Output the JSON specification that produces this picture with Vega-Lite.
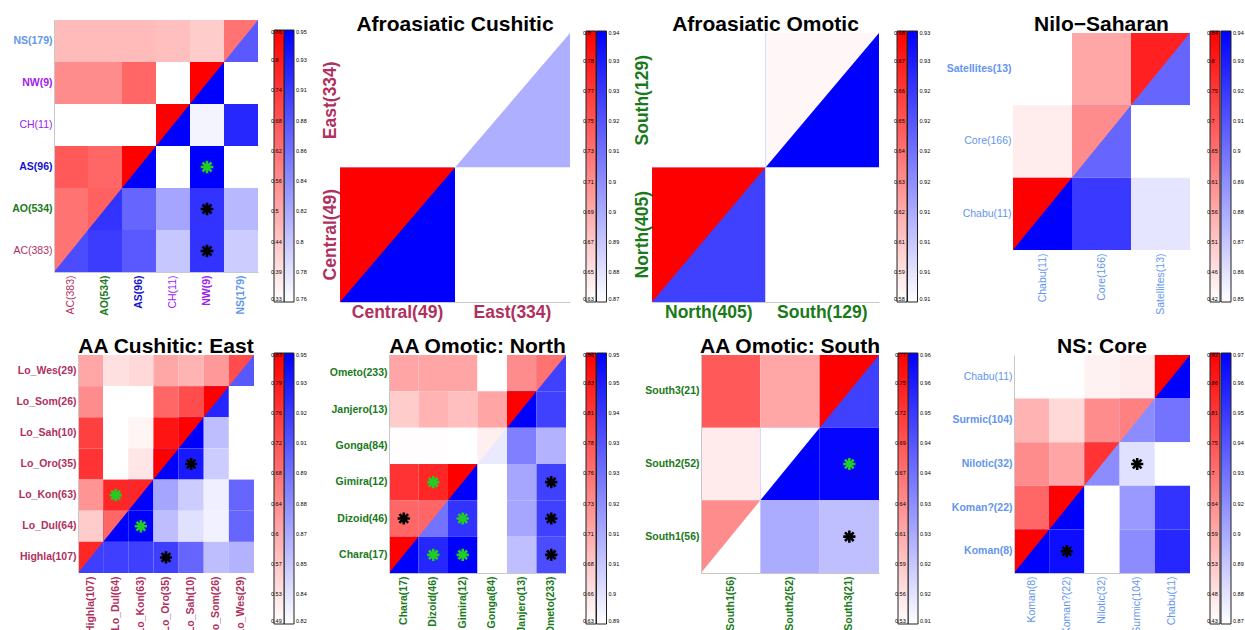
{
  "$schema": "https://vega.github.io/schema/vega-lite/v6.json",
  "background": "white",
  "padding": {"left": 11, "top": 14, "right": 2, "bottom": 2},
  "config": {
    "view": {"stroke": null},
    "font": "Liberation Sans",
    "axis": {"ticks": false, "domainColor": "#c8c8c8", "title": null, "grid": false, "labelFont": "Liberation Sans", "labelFontSize": 10.5, "labelPadding": 2},
    "legend": {"gradientThickness": 10, "gradientStrokeColor": "#222222", "gradientStrokeWidth": 1, "labelFont": "Liberation Sans", "labelFontSize": 5.5, "labelColor": "#000000", "labelOverlap": false, "labelBaseline": "middle", "padding": 0, "offset": 0, "direction": "vertical"},
    "title": {"font": "Liberation Sans", "fontSize": 21, "fontWeight": "bold", "color": "#000000", "anchor": "middle"}
  },
  "spacing": 15,
  "resolve": {"scale": {"color": "independent"}},
  "vconcat": [
    {
      "bounds": "flush",
      "spacing": 82,
      "resolve": {"scale": {"color": "independent"}},
      "hconcat": [
        {
          "width": 204, "height": 252,
          "data": {"values": [
            {"c": "AC(383)", "r": "NS(179)", "h": "u", "v": 0.473},
            {"c": "AO(534)", "r": "NS(179)", "h": "u", "v": 0.473},
            {"c": "AS(96)", "r": "NS(179)", "h": "u", "v": 0.473},
            {"c": "CH(11)", "r": "NS(179)", "h": "u", "v": 0.463},
            {"c": "NW(9)", "r": "NS(179)", "h": "u", "v": 0.436},
            {"c": "NS(179)", "r": "NS(179)", "h": "u", "v": 0.622},
            {"c": "AC(383)", "r": "NW(9)", "h": "u", "v": 0.569},
            {"c": "AO(534)", "r": "NW(9)", "h": "u", "v": 0.569},
            {"c": "AS(96)", "r": "NW(9)", "h": "u", "v": 0.648},
            {"c": "CH(11)", "r": "NW(9)", "h": "u", "v": 0.33},
            {"c": "NW(9)", "r": "NW(9)", "h": "u", "v": 0.86},
            {"c": "AC(383)", "r": "CH(11)", "h": "u", "v": 0.33},
            {"c": "AO(534)", "r": "CH(11)", "h": "u", "v": 0.33},
            {"c": "AS(96)", "r": "CH(11)", "h": "u", "v": 0.33},
            {"c": "CH(11)", "r": "CH(11)", "h": "u", "v": 0.86},
            {"c": "AC(383)", "r": "AS(96)", "h": "u", "v": 0.675},
            {"c": "AO(534)", "r": "AS(96)", "h": "u", "v": 0.648},
            {"c": "AS(96)", "r": "AS(96)", "h": "u", "v": 0.86},
            {"c": "AC(383)", "r": "AO(534)", "h": "u", "v": 0.622},
            {"c": "AO(534)", "r": "AO(534)", "h": "u", "v": 0.659},
            {"c": "AC(383)", "r": "AC(383)", "h": "u", "v": 0.622},
            {"c": "NS(179)", "r": "NS(179)", "h": "l", "v": 0.884},
            {"c": "NW(9)", "r": "NW(9)", "h": "l", "v": 0.95},
            {"c": "NS(179)", "r": "NW(9)", "h": "l", "v": 0.76},
            {"c": "CH(11)", "r": "CH(11)", "h": "l", "v": 0.95},
            {"c": "NW(9)", "r": "CH(11)", "h": "l", "v": 0.768},
            {"c": "NS(179)", "r": "CH(11)", "h": "l", "v": 0.922},
            {"c": "AS(96)", "r": "AS(96)", "h": "l", "v": 0.95},
            {"c": "CH(11)", "r": "AS(96)", "h": "l", "v": 0.76},
            {"c": "NW(9)", "r": "AS(96)", "h": "l", "v": 0.95, "s": 2},
            {"c": "NS(179)", "r": "AS(96)", "h": "l", "v": 0.76},
            {"c": "AO(534)", "r": "AO(534)", "h": "l", "v": 0.912},
            {"c": "AS(96)", "r": "AO(534)", "h": "l", "v": 0.874},
            {"c": "CH(11)", "r": "AO(534)", "h": "l", "v": 0.827},
            {"c": "NW(9)", "r": "AO(534)", "h": "l", "v": 0.912, "s": 1},
            {"c": "NS(179)", "r": "AO(534)", "h": "l", "v": 0.813},
            {"c": "AC(383)", "r": "AC(383)", "h": "l", "v": 0.893},
            {"c": "AO(534)", "r": "AC(383)", "h": "l", "v": 0.905},
            {"c": "AS(96)", "r": "AC(383)", "h": "l", "v": 0.884},
            {"c": "CH(11)", "r": "AC(383)", "h": "l", "v": 0.802},
            {"c": "NW(9)", "r": "AC(383)", "h": "l", "v": 0.912, "s": 1},
            {"c": "NS(179)", "r": "AC(383)", "h": "l", "v": 0.798}
          ]},
          "encoding": {
            "x": {"field": "c", "type": "nominal", "scale": {"domain": ["AC(383)", "AO(534)", "AS(96)", "CH(11)", "NW(9)", "NS(179)"], "paddingInner": 0, "paddingOuter": 0},
              "axis": {"labelAngle": -90, "labelPadding": 3,
                "labelColor": {"expr": "datum.value=='AC(383)'?'#b03060':datum.value=='AO(534)'?'#1a7a1a':datum.value=='AS(96)'?'#1414cc':datum.value=='NS(179)'?'#6495ed':'#a020f0'"},
                "labelFontWeight": {"expr": "datum.value=='AC(383)'||datum.value=='CH(11)'?'normal':'bold'"}}},
            "y": {"field": "r", "type": "nominal", "scale": {"domain": ["NS(179)", "NW(9)", "CH(11)", "AS(96)", "AO(534)", "AC(383)"], "paddingInner": 0, "paddingOuter": 0},
              "axis": {
                "labelColor": {"expr": "datum.value=='AC(383)'?'#b03060':datum.value=='AO(534)'?'#1a7a1a':datum.value=='AS(96)'?'#1414cc':datum.value=='NS(179)'?'#6495ed':'#a020f0'"},
                "labelFontWeight": {"expr": "datum.value=='AC(383)'||datum.value=='CH(11)'?'normal':'bold'"}}}
          },
          "layer": [
            {"transform": [{"filter": "datum.h=='l'"}], "mark": "rect",
              "encoding": {"color": {"field": "v", "type": "quantitative", "scale": {"domain": [0.76, 0.95], "range": ["#ffffff", "#0000ff"], "interpolate": "rgb"},
                "legend": {"title": null, "orient": "none", "legendX": 230, "legendY": 10, "gradientLength": 272,
                  "values": [0.76, 0.781111, 0.802222, 0.823333, 0.844444, 0.865556, 0.886667, 0.907778, 0.928889, 0.95],
                  "labelExpr": "['0.76','0.78','0.8','0.82','0.84','0.86','0.88','0.91','0.93','0.95'][round((datum.value-0.76)/0.0211111)]"}}}},
            {"transform": [{"filter": "datum.h=='u' && datum.c!=datum.r"}], "mark": "rect",
              "encoding": {"color": {"field": "v", "type": "quantitative", "scale": {"domain": [0.33, 0.86], "range": ["#ffffff", "#ff0000"], "interpolate": "rgb"},
                "legend": {"title": null, "orient": "none", "legendX": 220, "legendY": 10, "gradientLength": 272, "labelAlign": "right", "labelOffset": -13,
                  "values": [0.33, 0.388889, 0.447778, 0.506667, 0.565556, 0.624444, 0.683333, 0.742222, 0.801111, 0.86],
                  "labelExpr": "['0.33','0.39','0.44','0.5','0.56','0.62','0.68','0.74','0.8','0.86'][round((datum.value-0.33)/0.0588889)]"}}}},
            {"transform": [{"filter": "datum.h=='u' && datum.c==datum.r"}],
              "mark": {"type": "point", "shape": "M-17,-21L17,-21L-17,21Z", "size": 4, "filled": true, "opacity": 1, "strokeWidth": 0},
              "encoding": {"color": {"field": "v", "type": "quantitative", "scale": {"domain": [0.33, 0.86], "range": ["#ffffff", "#ff0000"], "interpolate": "rgb"}, "legend": null}}},
            {"transform": [{"filter": "datum.s>0"}],
              "mark": {"type": "point", "shape": "M-1,0L1,0M0,-1L0,1M-0.71,-0.71L0.71,0.71M-0.71,0.71L0.71,-0.71", "size": 160, "filled": false, "opacity": 1, "strokeWidth": 2.6},
              "encoding": {"color": {"condition": {"test": "datum.s==2", "value": "#22cc22"}, "value": "#000000"}}}
          ],
          "resolve": {"scale": {"color": "independent"}}
        },
        {
          "title": {"text": "Afroasiatic  Cushitic", "offset": -15},
          "width": 230, "height": 282,
          "data": {"values": [
            {"c": "Central(49)", "r": "East(334)", "h": "u", "v": 0.63},
            {"c": "East(334)", "r": "East(334)", "h": "u", "v": 0.63},
            {"c": "Central(49)", "r": "Central(49)", "h": "u", "v": 0.8},
            {"c": "East(334)", "r": "East(334)", "h": "l", "v": 0.892},
            {"c": "Central(49)", "r": "Central(49)", "h": "l", "v": 0.94},
            {"c": "East(334)", "r": "Central(49)", "h": "l", "v": 0.87}
          ]},
          "encoding": {
            "x": {"field": "c", "type": "nominal", "scale": {"domain": ["Central(49)", "East(334)"], "paddingInner": 0, "paddingOuter": 0},
              "axis": {"labelAngle": 0, "labelFontSize": 17.5, "labelFontWeight": "bold", "labelColor": "#b03060", "labelPadding": 1}},
            "y": {"field": "r", "type": "nominal", "scale": {"domain": ["East(334)", "Central(49)"], "paddingInner": 0, "paddingOuter": 0.048327, "align": 1},
              "axis": {"labelAngle": -90, "labelFontSize": 17.5, "labelFontWeight": "bold", "labelColor": "#b03060", "labelPadding": 1, "domain": false}}
          },
          "layer": [
            {"transform": [{"filter": "datum.h=='l'"}], "mark": "rect",
              "encoding": {"color": {"field": "v", "type": "quantitative", "scale": {"domain": [0.87, 0.94], "range": ["#ffffff", "#0000ff"], "interpolate": "rgb"},
                "legend": {"title": null, "orient": "none", "legendX": 256.5, "legendY": 11, "gradientLength": 271,
                  "values": [0.87, 0.877778, 0.885556, 0.893333, 0.901111, 0.908889, 0.916667, 0.924444, 0.932222, 0.94],
                  "labelExpr": "['0.87','0.88','0.89','0.9','0.9','0.91','0.92','0.93','0.93','0.94'][round((datum.value-0.87)/0.00777778)]"}}}},
            {"transform": [{"filter": "datum.h=='u' && datum.c!=datum.r"}], "mark": "rect",
              "encoding": {"color": {"field": "v", "type": "quantitative", "scale": {"domain": [0.63, 0.8], "range": ["#ffffff", "#ff0000"], "interpolate": "rgb"},
                "legend": {"title": null, "orient": "none", "legendX": 246, "legendY": 11, "gradientLength": 271, "labelAlign": "right", "labelOffset": -13,
                  "values": [0.63, 0.648889, 0.667778, 0.686667, 0.705556, 0.724444, 0.743333, 0.762222, 0.781111, 0.8],
                  "labelExpr": "['0.63','0.65','0.67','0.69','0.71','0.73','0.75','0.77','0.78','0.8'][round((datum.value-0.63)/0.0188889)]"}}}},
            {"transform": [{"filter": "datum.h=='u' && datum.c==datum.r"}],
              "mark": {"type": "point", "shape": "M-57.5,-67.25L57.5,-67.25L-57.5,67.25Z", "size": 4, "filled": true, "opacity": 1, "strokeWidth": 0},
              "encoding": {"color": {"field": "v", "type": "quantitative", "scale": {"domain": [0.63, 0.8], "range": ["#ffffff", "#ff0000"], "interpolate": "rgb"}, "legend": null}}}
          ],
          "resolve": {"scale": {"color": "independent"}}
        },
        {
          "title": {"text": "Afroasiatic  Omotic", "offset": -15},
          "width": 227, "height": 282,
          "data": {"values": [
            {"c": "North(405)", "r": "South(129)", "h": "u", "v": 0.58},
            {"c": "South(129)", "r": "South(129)", "h": "u", "v": 0.583},
            {"c": "North(405)", "r": "North(405)", "h": "u", "v": 0.68},
            {"c": "South(129)", "r": "South(129)", "h": "l", "v": 0.93},
            {"c": "North(405)", "r": "North(405)", "h": "l", "v": 0.925},
            {"c": "South(129)", "r": "North(405)", "h": "l", "v": 0.91}
          ]},
          "encoding": {
            "x": {"field": "c", "type": "nominal", "scale": {"domain": ["North(405)", "South(129)"], "paddingInner": 0, "paddingOuter": 0},
              "axis": {"labelAngle": 0, "labelFontSize": 17.5, "labelFontWeight": "bold", "labelColor": "#1a7a1a", "labelPadding": 1}},
            "y": {"field": "r", "type": "nominal", "scale": {"domain": ["South(129)", "North(405)"], "paddingInner": 0, "paddingOuter": 0.048327, "align": 1},
              "axis": {"labelAngle": -90, "labelFontSize": 17.5, "labelFontWeight": "bold", "labelColor": "#1a7a1a", "labelPadding": 1, "domain": false}}
          },
          "layer": [
            {"transform": [{"filter": "datum.h=='l'"}], "mark": "rect",
              "encoding": {"color": {"field": "v", "type": "quantitative", "scale": {"domain": [0.91, 0.93], "range": ["#ffffff", "#0000ff"], "interpolate": "rgb"},
                "legend": {"title": null, "orient": "none", "legendX": 255.5, "legendY": 11, "gradientLength": 271,
                  "values": [0.91, 0.912222, 0.914444, 0.916667, 0.918889, 0.921111, 0.923333, 0.925556, 0.927778, 0.93],
                  "labelExpr": "['0.91','0.91','0.91','0.91','0.92','0.92','0.92','0.92','0.93','0.93'][round((datum.value-0.91)/0.00222222)]"}}}},
            {"transform": [{"filter": "datum.h=='u' && datum.c!=datum.r"}], "mark": "rect",
              "encoding": {"color": {"field": "v", "type": "quantitative", "scale": {"domain": [0.58, 0.68], "range": ["#ffffff", "#ff0000"], "interpolate": "rgb"},
                "legend": {"title": null, "orient": "none", "legendX": 245, "legendY": 11, "gradientLength": 271, "labelAlign": "right", "labelOffset": -13,
                  "values": [0.58, 0.591111, 0.602222, 0.613333, 0.624444, 0.635556, 0.646667, 0.657778, 0.668889, 0.68],
                  "labelExpr": "['0.58','0.59','0.61','0.62','0.63','0.64','0.65','0.66','0.67','0.68'][round((datum.value-0.58)/0.0111111)]"}}}},
            {"transform": [{"filter": "datum.h=='u' && datum.c==datum.r"}],
              "mark": {"type": "point", "shape": "M-56.75,-67.25L56.75,-67.25L-56.75,67.25Z", "size": 4, "filled": true, "opacity": 1, "strokeWidth": 0},
              "encoding": {"color": {"field": "v", "type": "quantitative", "scale": {"domain": [0.58, 0.68], "range": ["#ffffff", "#ff0000"], "interpolate": "rgb"}, "legend": null}}}
          ],
          "resolve": {"scale": {"color": "independent"}}
        },
        {
          "title": {"text": "Nilo−Saharan", "offset": -15, "dx": 26},
          "width": 229, "height": 230,
          "data": {"values": [
            {"c": "Chabu(11)", "r": "Satellites(13)", "h": "u", "v": 0.42},
            {"c": "Core(166)", "r": "Satellites(13)", "h": "u", "v": 0.567},
            {"c": "Satellites(13)", "r": "Satellites(13)", "h": "u", "v": 0.785},
            {"c": "Chabu(11)", "r": "Core(166)", "h": "u", "v": 0.449},
            {"c": "Core(166)", "r": "Core(166)", "h": "u", "v": 0.609},
            {"c": "Chabu(11)", "r": "Chabu(11)", "h": "u", "v": 0.84},
            {"c": "Satellites(13)", "r": "Satellites(13)", "h": "l", "v": 0.904},
            {"c": "Core(166)", "r": "Core(166)", "h": "l", "v": 0.904},
            {"c": "Satellites(13)", "r": "Core(166)", "h": "l", "v": 0.85},
            {"c": "Chabu(11)", "r": "Chabu(11)", "h": "l", "v": 0.94},
            {"c": "Core(166)", "r": "Chabu(11)", "h": "l", "v": 0.92},
            {"c": "Satellites(13)", "r": "Chabu(11)", "h": "l", "v": 0.859}
          ]},
          "encoding": {
            "x": {"field": "c", "type": "nominal", "scale": {"domain": ["Chabu(11)", "Core(166)", "Satellites(13)"], "paddingInner": 0, "paddingOuter": 0.4407, "align": 1},
              "axis": {"labelAngle": -90, "labelColor": "#6495ed", "labelPadding": 3, "domain": false}},
            "y": {"field": "r", "type": "nominal", "scale": {"domain": ["Satellites(13)", "Core(166)", "Chabu(11)"], "paddingInner": 0, "paddingOuter": 0.08986, "align": 1},
              "axis": {"labelColor": "#6495ed", "offset": -52, "domain": false, "labelFontWeight": {"expr": "datum.value=='Satellites(13)'?'bold':'normal'"}}}
          },
          "layer": [
            {"transform": [{"filter": "datum.h=='l'"}], "mark": "rect",
              "encoding": {"color": {"field": "v", "type": "quantitative", "scale": {"domain": [0.85, 0.94], "range": ["#ffffff", "#0000ff"], "interpolate": "rgb"},
                "legend": {"title": null, "orient": "none", "legendX": 260, "legendY": 11, "gradientLength": 271,
                  "values": [0.85, 0.86, 0.87, 0.88, 0.89, 0.9, 0.91, 0.92, 0.93, 0.94],
                  "labelExpr": "['0.85','0.86','0.87','0.88','0.89','0.9','0.91','0.92','0.93','0.94'][round((datum.value-0.85)/0.01)]"}}}},
            {"transform": [{"filter": "datum.h=='u' && datum.c!=datum.r"}], "mark": "rect",
              "encoding": {"color": {"field": "v", "type": "quantitative", "scale": {"domain": [0.42, 0.84], "range": ["#ffffff", "#ff0000"], "interpolate": "rgb"},
                "legend": {"title": null, "orient": "none", "legendX": 249, "legendY": 11, "gradientLength": 271, "labelAlign": "right", "labelOffset": -13,
                  "values": [0.42, 0.466667, 0.513333, 0.56, 0.606667, 0.653333, 0.7, 0.746667, 0.793333, 0.84],
                  "labelExpr": "['0.42','0.46','0.51','0.56','0.61','0.65','0.7','0.75','0.8','0.84'][round((datum.value-0.42)/0.0466667)]"}}}},
            {"transform": [{"filter": "datum.h=='u' && datum.c==datum.r"}],
              "mark": {"type": "point", "shape": "M-29.5,-36.167L29.5,-36.167L-29.5,36.167Z", "size": 4, "filled": true, "opacity": 1, "strokeWidth": 0},
              "encoding": {"color": {"field": "v", "type": "quantitative", "scale": {"domain": [0.42, 0.84], "range": ["#ffffff", "#ff0000"], "interpolate": "rgb"}, "legend": null}}}
          ],
          "resolve": {"scale": {"color": "independent"}}
        }
      ]
    },
    {
      "bounds": "flush",
      "spacing": 135,
      "resolve": {"scale": {"color": "independent"}},
      "hconcat": [
        {
          "title": {"text": "AA Cushitic: East", "offset": -4, "dx": 12},
          "width": 200, "height": 218,
          "data": {"values": [
            {"c": "Highla(107)", "r": "Lo_Wes(29)", "h": "u", "v": 0.609},
            {"c": "Lo_Dul(64)", "r": "Lo_Wes(29)", "h": "u", "v": 0.531},
            {"c": "Lo_Kon(63)", "r": "Lo_Wes(29)", "h": "u", "v": 0.541},
            {"c": "Lo_Oro(35)", "r": "Lo_Wes(29)", "h": "u", "v": 0.609},
            {"c": "Lo_Sah(10)", "r": "Lo_Wes(29)", "h": "u", "v": 0.592},
            {"c": "Lo_Som(26)", "r": "Lo_Wes(29)", "h": "u", "v": 0.626},
            {"c": "Lo_Wes(29)", "r": "Lo_Wes(29)", "h": "u", "v": 0.728},
            {"c": "Highla(107)", "r": "Lo_Som(26)", "h": "u", "v": 0.643},
            {"c": "Lo_Dul(64)", "r": "Lo_Som(26)", "h": "u", "v": 0.49},
            {"c": "Lo_Kon(63)", "r": "Lo_Som(26)", "h": "u", "v": 0.49},
            {"c": "Lo_Oro(35)", "r": "Lo_Som(26)", "h": "u", "v": 0.694},
            {"c": "Lo_Sah(10)", "r": "Lo_Som(26)", "h": "u", "v": 0.728},
            {"c": "Lo_Som(26)", "r": "Lo_Som(26)", "h": "u", "v": 0.83},
            {"c": "Highla(107)", "r": "Lo_Sah(10)", "h": "u", "v": 0.745},
            {"c": "Lo_Dul(64)", "r": "Lo_Sah(10)", "h": "u", "v": 0.49},
            {"c": "Lo_Kon(63)", "r": "Lo_Sah(10)", "h": "u", "v": 0.504},
            {"c": "Lo_Oro(35)", "r": "Lo_Sah(10)", "h": "u", "v": 0.803},
            {"c": "Lo_Sah(10)", "r": "Lo_Sah(10)", "h": "u", "v": 0.83},
            {"c": "Highla(107)", "r": "Lo_Oro(35)", "h": "u", "v": 0.762},
            {"c": "Lo_Dul(64)", "r": "Lo_Oro(35)", "h": "u", "v": 0.49},
            {"c": "Lo_Kon(63)", "r": "Lo_Oro(35)", "h": "u", "v": 0.524},
            {"c": "Lo_Oro(35)", "r": "Lo_Oro(35)", "h": "u", "v": 0.83},
            {"c": "Highla(107)", "r": "Lo_Kon(63)", "h": "u", "v": 0.633},
            {"c": "Lo_Dul(64)", "r": "Lo_Kon(63)", "h": "u", "v": 0.779, "s": 2},
            {"c": "Lo_Kon(63)", "r": "Lo_Kon(63)", "h": "u", "v": 0.779},
            {"c": "Highla(107)", "r": "Lo_Dul(64)", "h": "u", "v": 0.558},
            {"c": "Lo_Dul(64)", "r": "Lo_Dul(64)", "h": "u", "v": 0.694},
            {"c": "Highla(107)", "r": "Highla(107)", "h": "u", "v": 0.779},
            {"c": "Lo_Wes(29)", "r": "Lo_Wes(29)", "h": "l", "v": 0.905},
            {"c": "Lo_Som(26)", "r": "Lo_Som(26)", "h": "l", "v": 0.931},
            {"c": "Lo_Wes(29)", "r": "Lo_Som(26)", "h": "l", "v": 0.82},
            {"c": "Lo_Sah(10)", "r": "Lo_Sah(10)", "h": "l", "v": 0.95},
            {"c": "Lo_Som(26)", "r": "Lo_Sah(10)", "h": "l", "v": 0.853},
            {"c": "Lo_Wes(29)", "r": "Lo_Sah(10)", "h": "l", "v": 0.82},
            {"c": "Lo_Oro(35)", "r": "Lo_Oro(35)", "h": "l", "v": 0.95},
            {"c": "Lo_Sah(10)", "r": "Lo_Oro(35)", "h": "l", "v": 0.937, "s": 1},
            {"c": "Lo_Som(26)", "r": "Lo_Oro(35)", "h": "l", "v": 0.846},
            {"c": "Lo_Wes(29)", "r": "Lo_Oro(35)", "h": "l", "v": 0.82},
            {"c": "Lo_Kon(63)", "r": "Lo_Kon(63)", "h": "l", "v": 0.95},
            {"c": "Lo_Oro(35)", "r": "Lo_Kon(63)", "h": "l", "v": 0.866},
            {"c": "Lo_Sah(10)", "r": "Lo_Kon(63)", "h": "l", "v": 0.846},
            {"c": "Lo_Som(26)", "r": "Lo_Kon(63)", "h": "l", "v": 0.828},
            {"c": "Lo_Wes(29)", "r": "Lo_Kon(63)", "h": "l", "v": 0.898},
            {"c": "Lo_Dul(64)", "r": "Lo_Dul(64)", "h": "l", "v": 0.95},
            {"c": "Lo_Kon(63)", "r": "Lo_Dul(64)", "h": "l", "v": 0.95, "s": 2},
            {"c": "Lo_Oro(35)", "r": "Lo_Dul(64)", "h": "l", "v": 0.853},
            {"c": "Lo_Sah(10)", "r": "Lo_Dul(64)", "h": "l", "v": 0.836},
            {"c": "Lo_Som(26)", "r": "Lo_Dul(64)", "h": "l", "v": 0.827},
            {"c": "Lo_Wes(29)", "r": "Lo_Dul(64)", "h": "l", "v": 0.898},
            {"c": "Highla(107)", "r": "Highla(107)", "h": "l", "v": 0.918},
            {"c": "Lo_Dul(64)", "r": "Highla(107)", "h": "l", "v": 0.918},
            {"c": "Lo_Kon(63)", "r": "Highla(107)", "h": "l", "v": 0.918},
            {"c": "Lo_Oro(35)", "r": "Highla(107)", "h": "l", "v": 0.918, "s": 1},
            {"c": "Lo_Sah(10)", "r": "Highla(107)", "h": "l", "v": 0.898},
            {"c": "Lo_Som(26)", "r": "Highla(107)", "h": "l", "v": 0.853},
            {"c": "Lo_Wes(29)", "r": "Highla(107)", "h": "l", "v": 0.859}
          ]},
          "encoding": {
            "x": {"field": "c", "type": "nominal", "scale": {"domain": ["Highla(107)", "Lo_Dul(64)", "Lo_Kon(63)", "Lo_Oro(35)", "Lo_Sah(10)", "Lo_Som(26)", "Lo_Wes(29)"], "paddingInner": 0, "paddingOuter": 0.47727, "align": 1},
              "axis": {"labelAngle": -90, "labelColor": "#b03060", "labelFontWeight": "bold", "labelPadding": 3, "domain": false}},
            "y": {"field": "r", "type": "nominal", "scale": {"domain": ["Lo_Wes(29)", "Lo_Som(26)", "Lo_Sah(10)", "Lo_Oro(35)", "Lo_Kon(63)", "Lo_Dul(64)", "Highla(107)"], "paddingInner": 0, "paddingOuter": 0},
              "axis": {"labelColor": "#b03060", "labelFontWeight": "bold", "offset": -24}}
          },
          "layer": [
            {"transform": [{"filter": "datum.h=='l'"}], "mark": "rect",
              "encoding": {"color": {"field": "v", "type": "quantitative", "scale": {"domain": [0.82, 0.95], "range": ["#ffffff", "#0000ff"], "interpolate": "rgb"},
                "legend": {"title": null, "orient": "none", "legendX": 230, "legendY": -2, "gradientLength": 271,
                  "values": [0.82, 0.834444, 0.848889, 0.863333, 0.877778, 0.892222, 0.906667, 0.921111, 0.935556, 0.95],
                  "labelExpr": "['0.82','0.84','0.85','0.87','0.88','0.89','0.91','0.92','0.93','0.95'][round((datum.value-0.82)/0.0144444)]"}}}},
            {"transform": [{"filter": "datum.h=='u' && datum.c!=datum.r"}], "mark": "rect",
              "encoding": {"color": {"field": "v", "type": "quantitative", "scale": {"domain": [0.49, 0.83], "range": ["#ffffff", "#ff0000"], "interpolate": "rgb"},
                "legend": {"title": null, "orient": "none", "legendX": 220, "legendY": -2, "gradientLength": 271, "labelAlign": "right", "labelOffset": -13,
                  "values": [0.49, 0.527778, 0.565556, 0.603333, 0.641111, 0.678889, 0.716667, 0.754444, 0.792222, 0.83],
                  "labelExpr": "['0.49','0.53','0.57','0.6','0.64','0.68','0.72','0.76','0.79','0.83'][round((datum.value-0.49)/0.0377778)]"}}}},
            {"transform": [{"filter": "datum.h=='u' && datum.c==datum.r"}],
              "mark": {"type": "point", "shape": "M-12.571,-15.571L12.571,-15.571L-12.571,15.571Z", "size": 4, "filled": true, "opacity": 1, "strokeWidth": 0},
              "encoding": {"color": {"field": "v", "type": "quantitative", "scale": {"domain": [0.49, 0.83], "range": ["#ffffff", "#ff0000"], "interpolate": "rgb"}, "legend": null}}},
            {"transform": [{"filter": "datum.s>0"}],
              "mark": {"type": "point", "shape": "M-1,0L1,0M0,-1L0,1M-0.71,-0.71L0.71,0.71M-0.71,0.71L0.71,-0.71", "size": 150, "filled": false, "opacity": 1, "strokeWidth": 2.6},
              "encoding": {"color": {"condition": {"test": "datum.s==2", "value": "#22cc22"}, "value": "#000000"}}}
          ],
          "resolve": {"scale": {"color": "independent"}}
        },
        {
          "title": {"text": "AA Omotic: North", "offset": -4},
          "width": 177, "height": 218,
          "data": {"values": [
            {"c": "Chara(17)", "r": "Ometo(233)", "h": "u", "v": 0.711},
            {"c": "Dizoid(46)", "r": "Ometo(233)", "h": "u", "v": 0.711},
            {"c": "Gimira(12)", "r": "Ometo(233)", "h": "u", "v": 0.711},
            {"c": "Gonga(84)", "r": "Ometo(233)", "h": "u", "v": 0.63},
            {"c": "Janjero(13)", "r": "Ometo(233)", "h": "u", "v": 0.734},
            {"c": "Ometo(233)", "r": "Ometo(233)", "h": "u", "v": 0.757},
            {"c": "Chara(17)", "r": "Janjero(13)", "h": "u", "v": 0.676},
            {"c": "Dizoid(46)", "r": "Janjero(13)", "h": "u", "v": 0.699},
            {"c": "Gimira(12)", "r": "Janjero(13)", "h": "u", "v": 0.688},
            {"c": "Gonga(84)", "r": "Janjero(13)", "h": "u", "v": 0.711},
            {"c": "Janjero(13)", "r": "Janjero(13)", "h": "u", "v": 0.86},
            {"c": "Chara(17)", "r": "Gonga(84)", "h": "u", "v": 0.632},
            {"c": "Dizoid(46)", "r": "Gonga(84)", "h": "u", "v": 0.632},
            {"c": "Gimira(12)", "r": "Gonga(84)", "h": "u", "v": 0.63},
            {"c": "Gonga(84)", "r": "Gonga(84)", "h": "u", "v": 0.644},
            {"c": "Chara(17)", "r": "Gimira(12)", "h": "u", "v": 0.814},
            {"c": "Dizoid(46)", "r": "Gimira(12)", "h": "u", "v": 0.826, "s": 2},
            {"c": "Gimira(12)", "r": "Gimira(12)", "h": "u", "v": 0.86},
            {"c": "Chara(17)", "r": "Dizoid(46)", "h": "u", "v": 0.768, "s": 1},
            {"c": "Dizoid(46)", "r": "Dizoid(46)", "h": "u", "v": 0.768},
            {"c": "Chara(17)", "r": "Chara(17)", "h": "u", "v": 0.86},
            {"c": "Ometo(233)", "r": "Ometo(233)", "h": "l", "v": 0.935},
            {"c": "Janjero(13)", "r": "Janjero(13)", "h": "l", "v": 0.95},
            {"c": "Ometo(233)", "r": "Janjero(13)", "h": "l", "v": 0.935},
            {"c": "Gonga(84)", "r": "Gonga(84)", "h": "l", "v": 0.895},
            {"c": "Janjero(13)", "r": "Gonga(84)", "h": "l", "v": 0.92},
            {"c": "Ometo(233)", "r": "Gonga(84)", "h": "l", "v": 0.908},
            {"c": "Gimira(12)", "r": "Gimira(12)", "h": "l", "v": 0.95},
            {"c": "Gonga(84)", "r": "Gimira(12)", "h": "l", "v": 0.89},
            {"c": "Janjero(13)", "r": "Gimira(12)", "h": "l", "v": 0.911},
            {"c": "Ometo(233)", "r": "Gimira(12)", "h": "l", "v": 0.935, "s": 1},
            {"c": "Dizoid(46)", "r": "Dizoid(46)", "h": "l", "v": 0.923},
            {"c": "Gimira(12)", "r": "Dizoid(46)", "h": "l", "v": 0.938, "s": 2},
            {"c": "Gonga(84)", "r": "Dizoid(46)", "h": "l", "v": 0.89},
            {"c": "Janjero(13)", "r": "Dizoid(46)", "h": "l", "v": 0.911},
            {"c": "Ometo(233)", "r": "Dizoid(46)", "h": "l", "v": 0.935, "s": 1},
            {"c": "Chara(17)", "r": "Chara(17)", "h": "l", "v": 0.95},
            {"c": "Dizoid(46)", "r": "Chara(17)", "h": "l", "v": 0.941, "s": 2},
            {"c": "Gimira(12)", "r": "Chara(17)", "h": "l", "v": 0.95, "s": 2},
            {"c": "Gonga(84)", "r": "Chara(17)", "h": "l", "v": 0.89},
            {"c": "Janjero(13)", "r": "Chara(17)", "h": "l", "v": 0.905},
            {"c": "Ometo(233)", "r": "Chara(17)", "h": "l", "v": 0.932, "s": 1}
          ]},
          "encoding": {
            "x": {"field": "c", "type": "nominal", "scale": {"domain": ["Chara(17)", "Dizoid(46)", "Gimira(12)", "Gonga(84)", "Janjero(13)", "Ometo(233)"], "paddingInner": 0, "paddingOuter": 0},
              "axis": {"labelAngle": -90, "labelColor": "#1a7a1a", "labelFontWeight": "bold", "labelPadding": 3}},
            "y": {"field": "r", "type": "nominal", "scale": {"domain": ["Ometo(233)", "Janjero(13)", "Gonga(84)", "Gimira(12)", "Dizoid(46)", "Chara(17)"], "paddingInner": 0, "paddingOuter": 0},
              "axis": {"labelColor": "#1a7a1a", "labelFontWeight": "bold"}}
          },
          "layer": [
            {"transform": [{"filter": "datum.h=='l'"}], "mark": "rect",
              "encoding": {"color": {"field": "v", "type": "quantitative", "scale": {"domain": [0.89, 0.95], "range": ["#ffffff", "#0000ff"], "interpolate": "rgb"},
                "legend": {"title": null, "orient": "none", "legendX": 207.5, "legendY": -2, "gradientLength": 271,
                  "values": [0.89, 0.896667, 0.903333, 0.91, 0.916667, 0.923333, 0.93, 0.936667, 0.943333, 0.95],
                  "labelExpr": "['0.89','0.9','0.91','0.91','0.92','0.93','0.93','0.94','0.95','0.95'][round((datum.value-0.89)/0.00666667)]"}}}},
            {"transform": [{"filter": "datum.h=='u' && datum.c!=datum.r"}], "mark": "rect",
              "encoding": {"color": {"field": "v", "type": "quantitative", "scale": {"domain": [0.63, 0.86], "range": ["#ffffff", "#ff0000"], "interpolate": "rgb"},
                "legend": {"title": null, "orient": "none", "legendX": 197, "legendY": -2, "gradientLength": 271, "labelAlign": "right", "labelOffset": -13,
                  "values": [0.63, 0.655556, 0.681111, 0.706667, 0.732222, 0.757778, 0.783333, 0.808889, 0.834444, 0.86],
                  "labelExpr": "['0.63','0.66','0.68','0.71','0.73','0.76','0.78','0.81','0.83','0.86'][round((datum.value-0.63)/0.0255556)]"}}}},
            {"transform": [{"filter": "datum.h=='u' && datum.c==datum.r"}],
              "mark": {"type": "point", "shape": "M-14.75,-18.167L14.75,-18.167L-14.75,18.167Z", "size": 4, "filled": true, "opacity": 1, "strokeWidth": 0},
              "encoding": {"color": {"field": "v", "type": "quantitative", "scale": {"domain": [0.63, 0.86], "range": ["#ffffff", "#ff0000"], "interpolate": "rgb"}, "legend": null}}},
            {"transform": [{"filter": "datum.s>0"}],
              "mark": {"type": "point", "shape": "M-1,0L1,0M0,-1L0,1M-0.71,-0.71L0.71,0.71M-0.71,0.71L0.71,-0.71", "size": 150, "filled": false, "opacity": 1, "strokeWidth": 2.6},
              "encoding": {"color": {"condition": {"test": "datum.s==2", "value": "#22cc22"}, "value": "#000000"}}}
          ],
          "resolve": {"scale": {"color": "independent"}}
        },
        {
          "title": {"text": "AA Omotic: South", "offset": -4},
          "width": 178, "height": 218,
          "data": {"values": [
            {"c": "South1(56)", "r": "South3(21)", "h": "u", "v": 0.686},
            {"c": "South2(52)", "r": "South3(21)", "h": "u", "v": 0.614},
            {"c": "South3(21)", "r": "South3(21)", "h": "u", "v": 0.77},
            {"c": "South1(56)", "r": "South2(52)", "h": "u", "v": 0.549},
            {"c": "South2(52)", "r": "South2(52)", "h": "u", "v": 0.53},
            {"c": "South1(56)", "r": "South1(56)", "h": "u", "v": 0.638},
            {"c": "South3(21)", "r": "South3(21)", "h": "l", "v": 0.9475},
            {"c": "South2(52)", "r": "South2(52)", "h": "l", "v": 0.96},
            {"c": "South3(21)", "r": "South2(52)", "h": "l", "v": 0.959, "s": 2},
            {"c": "South1(56)", "r": "South1(56)", "h": "l", "v": 0.91},
            {"c": "South2(52)", "r": "South1(56)", "h": "l", "v": 0.9265},
            {"c": "South3(21)", "r": "South1(56)", "h": "l", "v": 0.9225, "s": 1}
          ]},
          "encoding": {
            "x": {"field": "c", "type": "nominal", "scale": {"domain": ["South1(56)", "South2(52)", "South3(21)"], "paddingInner": 0, "paddingOuter": 0},
              "axis": {"labelAngle": -90, "labelColor": "#1a7a1a", "labelFontWeight": "bold", "labelPadding": 3}},
            "y": {"field": "r", "type": "nominal", "scale": {"domain": ["South3(21)", "South2(52)", "South1(56)"], "paddingInner": 0, "paddingOuter": 0},
              "axis": {"labelColor": "#1a7a1a", "labelFontWeight": "bold"}}
          },
          "layer": [
            {"transform": [{"filter": "datum.h=='l'"}], "mark": "rect",
              "encoding": {"color": {"field": "v", "type": "quantitative", "scale": {"domain": [0.91, 0.96], "range": ["#ffffff", "#0000ff"], "interpolate": "rgb"},
                "legend": {"title": null, "orient": "none", "legendX": 207, "legendY": -2, "gradientLength": 271,
                  "values": [0.91, 0.915556, 0.921111, 0.926667, 0.932222, 0.937778, 0.943333, 0.948889, 0.954444, 0.96],
                  "labelExpr": "['0.91','0.92','0.92','0.93','0.93','0.94','0.94','0.95','0.96','0.96'][round((datum.value-0.91)/0.00555556)]"}}}},
            {"transform": [{"filter": "datum.h=='u' && datum.c!=datum.r"}], "mark": "rect",
              "encoding": {"color": {"field": "v", "type": "quantitative", "scale": {"domain": [0.53, 0.77], "range": ["#ffffff", "#ff0000"], "interpolate": "rgb"},
                "legend": {"title": null, "orient": "none", "legendX": 197, "legendY": -2, "gradientLength": 271, "labelAlign": "right", "labelOffset": -13,
                  "values": [0.53, 0.556667, 0.583333, 0.61, 0.636667, 0.663333, 0.69, 0.716667, 0.743333, 0.77],
                  "labelExpr": "['0.53','0.56','0.59','0.61','0.64','0.67','0.69','0.72','0.75','0.77'][round((datum.value-0.53)/0.0266667)]"}}}},
            {"transform": [{"filter": "datum.h=='u' && datum.c==datum.r"}],
              "mark": {"type": "point", "shape": "M-29.667,-36.333L29.667,-36.333L-29.667,36.333Z", "size": 4, "filled": true, "opacity": 1, "strokeWidth": 0},
              "encoding": {"color": {"field": "v", "type": "quantitative", "scale": {"domain": [0.53, 0.77], "range": ["#ffffff", "#ff0000"], "interpolate": "rgb"}, "legend": null}}},
            {"transform": [{"filter": "datum.s>0"}],
              "mark": {"type": "point", "shape": "M-1,0L1,0M0,-1L0,1M-0.71,-0.71L0.71,0.71M-0.71,0.71L0.71,-0.71", "size": 150, "filled": false, "opacity": 1, "strokeWidth": 2.6},
              "encoding": {"color": {"condition": {"test": "datum.s==2", "value": "#22cc22"}, "value": "#000000"}}}
          ],
          "resolve": {"scale": {"color": "independent"}}
        },
        {
          "title": {"text": "NS: Core", "offset": -4},
          "width": 176, "height": 218,
          "data": {"values": [
            {"c": "Koman(8)", "r": "Chabu(11)", "h": "u", "v": 0.43},
            {"c": "Koman?(22)", "r": "Chabu(11)", "h": "u", "v": 0.43},
            {"c": "Nilotic(32)", "r": "Chabu(11)", "h": "u", "v": 0.455},
            {"c": "Surmic(104)", "r": "Chabu(11)", "h": "u", "v": 0.464},
            {"c": "Chabu(11)", "r": "Chabu(11)", "h": "u", "v": 0.92},
            {"c": "Koman(8)", "r": "Surmic(104)", "h": "u", "v": 0.577},
            {"c": "Koman?(22)", "r": "Surmic(104)", "h": "u", "v": 0.504},
            {"c": "Nilotic(32)", "r": "Surmic(104)", "h": "u", "v": 0.651},
            {"c": "Surmic(104)", "r": "Surmic(104)", "h": "u", "v": 0.675},
            {"c": "Koman(8)", "r": "Nilotic(32)", "h": "u", "v": 0.651},
            {"c": "Koman?(22)", "r": "Nilotic(32)", "h": "u", "v": 0.602},
            {"c": "Nilotic(32)", "r": "Nilotic(32)", "h": "u", "v": 0.822},
            {"c": "Koman(8)", "r": "Koman?(22)", "h": "u", "v": 0.724},
            {"c": "Koman?(22)", "r": "Koman?(22)", "h": "u", "v": 0.92},
            {"c": "Koman(8)", "r": "Koman(8)", "h": "u", "v": 0.92},
            {"c": "Chabu(11)", "r": "Chabu(11)", "h": "l", "v": 0.97},
            {"c": "Surmic(104)", "r": "Surmic(104)", "h": "l", "v": 0.915},
            {"c": "Chabu(11)", "r": "Surmic(104)", "h": "l", "v": 0.925},
            {"c": "Nilotic(32)", "r": "Nilotic(32)", "h": "l", "v": 0.915},
            {"c": "Surmic(104)", "r": "Nilotic(32)", "h": "l", "v": 0.882, "s": 1},
            {"c": "Chabu(11)", "r": "Nilotic(32)", "h": "l", "v": 0.87},
            {"c": "Koman?(22)", "r": "Koman?(22)", "h": "l", "v": 0.97},
            {"c": "Nilotic(32)", "r": "Koman?(22)", "h": "l", "v": 0.87},
            {"c": "Surmic(104)", "r": "Koman?(22)", "h": "l", "v": 0.91},
            {"c": "Chabu(11)", "r": "Koman?(22)", "h": "l", "v": 0.95},
            {"c": "Koman(8)", "r": "Koman(8)", "h": "l", "v": 0.97},
            {"c": "Koman?(22)", "r": "Koman(8)", "h": "l", "v": 0.965, "s": 1},
            {"c": "Nilotic(32)", "r": "Koman(8)", "h": "l", "v": 0.87},
            {"c": "Surmic(104)", "r": "Koman(8)", "h": "l", "v": 0.915},
            {"c": "Chabu(11)", "r": "Koman(8)", "h": "l", "v": 0.955}
          ]},
          "encoding": {
            "x": {"field": "c", "type": "nominal", "scale": {"domain": ["Koman(8)", "Koman?(22)", "Nilotic(32)", "Surmic(104)", "Chabu(11)"], "paddingInner": 0, "paddingOuter": 0},
              "axis": {"labelAngle": -90, "labelColor": "#6495ed", "labelPadding": 3}},
            "y": {"field": "r", "type": "nominal", "scale": {"domain": ["Chabu(11)", "Surmic(104)", "Nilotic(32)", "Koman?(22)", "Koman(8)"], "paddingInner": 0, "paddingOuter": 0},
              "axis": {"labelColor": "#6495ed", "labelFontWeight": {"expr": "datum.value=='Chabu(11)'?'normal':'bold'"}}}
          },
          "layer": [
            {"transform": [{"filter": "datum.h=='l'"}], "mark": "rect",
              "encoding": {"color": {"field": "v", "type": "quantitative", "scale": {"domain": [0.87, 0.97], "range": ["#ffffff", "#0000ff"], "interpolate": "rgb"},
                "legend": {"title": null, "orient": "none", "legendX": 207, "legendY": -2, "gradientLength": 271,
                  "values": [0.87, 0.881111, 0.892222, 0.903333, 0.914444, 0.925556, 0.936667, 0.947778, 0.958889, 0.97],
                  "labelExpr": "['0.87','0.88','0.89','0.9','0.92','0.93','0.94','0.95','0.96','0.97'][round((datum.value-0.87)/0.0111111)]"}}}},
            {"transform": [{"filter": "datum.h=='u' && datum.c!=datum.r"}], "mark": "rect",
              "encoding": {"color": {"field": "v", "type": "quantitative", "scale": {"domain": [0.43, 0.92], "range": ["#ffffff", "#ff0000"], "interpolate": "rgb"},
                "legend": {"title": null, "orient": "none", "legendX": 196, "legendY": -2, "gradientLength": 271, "labelAlign": "right", "labelOffset": -13,
                  "values": [0.43, 0.484444, 0.538889, 0.593333, 0.647778, 0.702222, 0.756667, 0.811111, 0.865556, 0.92],
                  "labelExpr": "['0.43','0.48','0.53','0.59','0.64','0.7','0.75','0.81','0.86','0.92'][round((datum.value-0.43)/0.0544444)]"}}}},
            {"transform": [{"filter": "datum.h=='u' && datum.c==datum.r"}],
              "mark": {"type": "point", "shape": "M-17.6,-21.8L17.6,-21.8L-17.6,21.8Z", "size": 4, "filled": true, "opacity": 1, "strokeWidth": 0},
              "encoding": {"color": {"field": "v", "type": "quantitative", "scale": {"domain": [0.43, 0.92], "range": ["#ffffff", "#ff0000"], "interpolate": "rgb"}, "legend": null}}},
            {"transform": [{"filter": "datum.s>0"}],
              "mark": {"type": "point", "shape": "M-1,0L1,0M0,-1L0,1M-0.71,-0.71L0.71,0.71M-0.71,0.71L0.71,-0.71", "size": 150, "filled": false, "opacity": 1, "strokeWidth": 2.6},
              "encoding": {"color": {"condition": {"test": "datum.s==2", "value": "#22cc22"}, "value": "#000000"}}}
          ],
          "resolve": {"scale": {"color": "independent"}}
        }
      ]
    }
  ]
}
